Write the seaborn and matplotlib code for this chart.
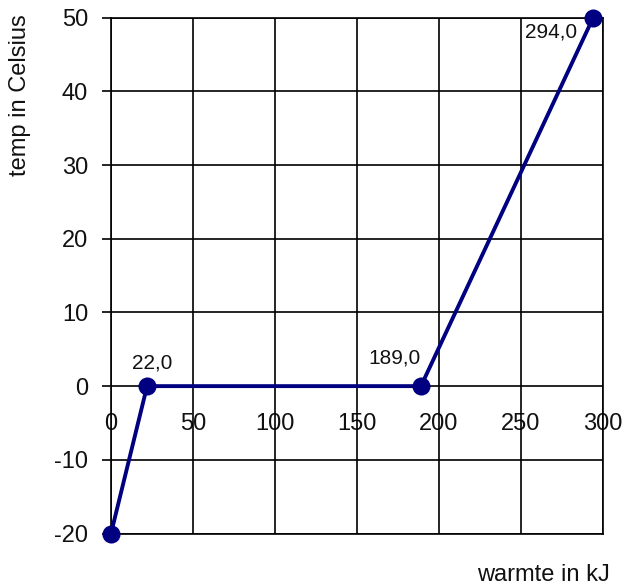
import matplotlib
matplotlib.use("Agg")
import matplotlib.pyplot as plt
import seaborn as sns
import pandas as pd

heat_kj = [0, 22, 189, 294]
temp_c = [-20, 0, 0, 50]
x_ticks = [0, 50, 100, 150, 200, 250, 300]
y_ticks = [-20, -10, 0, 10, 20, 30, 40, 50]
x_label = "warmte in kJ"
y_label = "temp in Celsius"

sns.set_style("white")
plt.rcParams['font.family'] = ['Liberation Sans', 'DejaVu Sans']
plt.rcParams['axes.unicode_minus'] = False
FS = 17
FS_LBL = 15

df = pd.DataFrame({"x": heat_kj, "y": temp_c})

fig = plt.figure(figsize=(6.36, 5.85), dpi=100)
ax = fig.add_axes([111/636, 1-533.5/585, 492/636, (533.5-17.7)/585])

sns.lineplot(data=df, x="x", y="y", sort=False, ax=ax, color="#000080",
             linewidth=2.8, marker="o", markersize=13, markeredgewidth=0,
             markerfacecolor="#000080", zorder=5, clip_on=False)

ax.set_xlim(0, 300)
ax.set_ylim(-20, 50)
ax.set_xticks(x_ticks)
ax.set_yticks(y_ticks)
ax.grid(True, color="black", linewidth=1.2)
ax.set_axisbelow(True)
for s in ax.spines.values():
    s.set_color("black")
    s.set_linewidth(1.2)

ax.tick_params(axis="y", which="both", left=True, length=6.5, width=1.2,
               color="black", pad=10, labelsize=FS, labelcolor="#111111")
ax.tick_params(axis="x", bottom=False, labelbottom=False)
ylo, yhi = ax.get_ylim()
sec = ax.secondary_xaxis((0 - ylo) / (yhi - ylo))
sec.set_xticks(x_ticks)
sec.tick_params(axis="x", length=0, pad=19, labelsize=FS, labelcolor="#111111")
sec.spines["bottom"].set_visible(False)

ax.set_xlabel(x_label, fontsize=FS, color="#111111")
ax.set_ylabel(y_label, fontsize=FS, color="#111111", va="center")
ax.xaxis.set_label_coords(0.878, -0.06)
ax.yaxis.set_label_coords(-0.185, 0.85)

offsets = [None, (5, 14, "center", "bottom"), (0, 19, "right", "bottom"),
           (-16, -5, "right", "top")]
for xv, yv, off in zip(heat_kj, temp_c, offsets):
    if off is None:
        continue
    dx, dy, ha, va = off
    ax.annotate(f"{xv:.1f}".replace(".", ","), (xv, yv), xytext=(dx, dy),
                textcoords="offset pixels", ha=ha, va=va, fontsize=FS_LBL,
                color="#111111", zorder=6)

fig.savefig("out.png", dpi=100)
